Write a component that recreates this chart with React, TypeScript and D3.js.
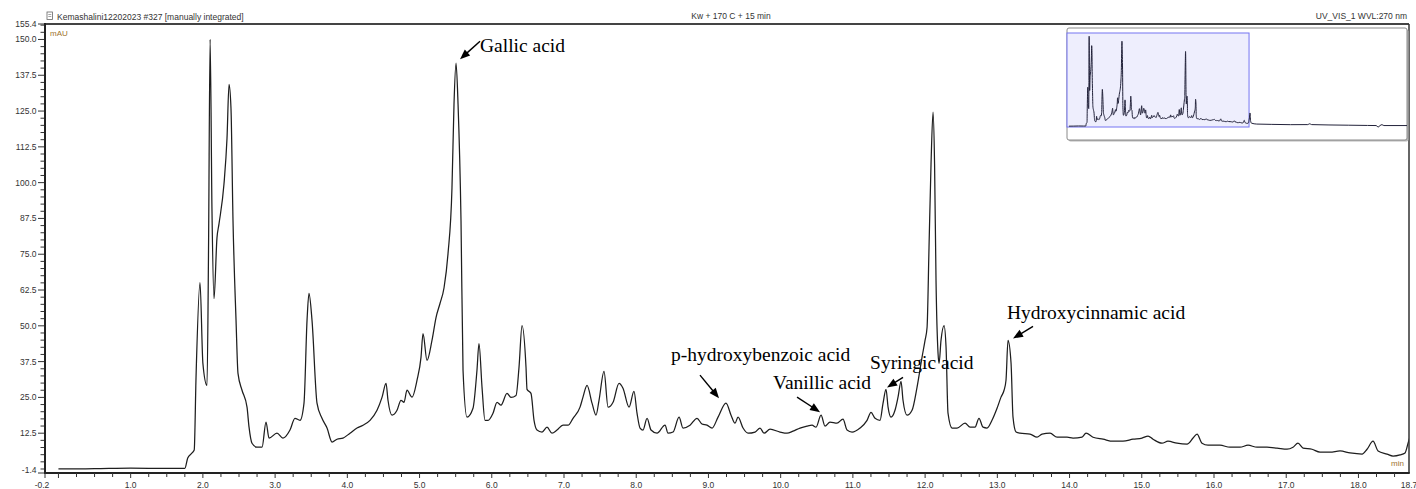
import React from 'react';
import * as d3 from 'd3';

// ---------------- data ----------------
const retentionTimes: number[] = [
  0.0, 0.5, 1.0, 1.5, 1.75, 1.79, 1.85, 1.88, 1.905, 1.96, 2.0, 2.057, 2.078, 2.1, 2.126, 2.154, 2.195, 2.223,
  2.292, 2.334, 2.362, 2.389, 2.417, 2.459, 2.486, 2.542, 2.611, 2.639, 2.68, 2.749, 2.819, 2.874, 2.916, 3.026,
  3.109, 3.206, 3.275, 3.345, 3.4, 3.442, 3.469, 3.511, 3.58, 3.649, 3.719, 3.788, 3.857, 3.94, 4.037, 4.134,
  4.217, 4.314, 4.411, 4.48, 4.536, 4.563, 4.619, 4.688, 4.743, 4.785, 4.826, 4.896, 4.965, 5.02, 5.048, 5.103,
  5.172, 5.228, 5.283, 5.339, 5.394, 5.449, 5.477, 5.505, 5.533, 5.574, 5.602, 5.657, 5.74, 5.795, 5.823, 5.865,
  5.906, 5.948, 6.017, 6.073, 6.128, 6.211, 6.266, 6.336, 6.377, 6.419, 6.474, 6.488, 6.543, 6.585, 6.626, 6.696,
  6.765, 6.834, 6.903, 6.986, 7.056, 7.125, 7.222, 7.263, 7.319, 7.388, 7.443, 7.485, 7.554, 7.61, 7.679, 7.762,
  7.817, 7.9, 7.969, 8.011, 8.053, 8.094, 8.15, 8.205, 8.288, 8.399, 8.44, 8.51, 8.593, 8.648, 8.745, 8.842,
  8.911, 8.98, 9.05, 9.133, 9.243, 9.313, 9.368, 9.41, 9.479, 9.548, 9.645, 9.714, 9.77, 9.853, 9.991, 10.088,
  10.171, 10.268, 10.365, 10.434, 10.49, 10.559, 10.614, 10.683, 10.78, 10.863, 10.919, 10.988, 11.099, 11.196,
  11.251, 11.307, 11.376, 11.417, 11.459, 11.487, 11.528, 11.583, 11.625, 11.667, 11.694, 11.75, 11.819, 11.888,
  11.957, 11.999, 12.027, 12.054, 12.082, 12.11, 12.131, 12.151, 12.179, 12.193, 12.22, 12.262, 12.29, 12.317,
  12.373, 12.442, 12.553, 12.622, 12.691, 12.746, 12.802, 12.857, 12.926, 12.996, 13.051, 13.093, 13.12, 13.148,
  13.19, 13.217, 13.259, 13.314, 13.453, 13.55, 13.619, 13.73, 13.827, 13.965, 14.048, 14.173, 14.228, 14.325,
  14.464, 14.602, 14.74, 14.879, 15.003, 15.087, 15.156, 15.28, 15.363, 15.488, 15.627, 15.71, 15.765, 15.834,
  15.917, 16.083, 16.222, 16.36, 16.471, 16.596, 16.734, 16.873, 17.011, 17.094, 17.163, 17.233, 17.357, 17.468,
  17.606, 17.745, 17.884, 18.05, 18.119, 18.202, 18.272, 18.396, 18.479, 18.576, 18.645, 18.687,
];
const absorbanceMAU: number[] = [
  0.0, 0.1, 0.3, 0.2, 0.2, 3.8, 5.6, 6.6, 32.0, 65.1, 36.9, 29.2, 76.2, 150.0, 90.0, 59.5, 80.7, 85.6,
  99.5, 115.5, 134.3, 126.0, 86.7, 51.9, 33.4, 27.5, 21.6, 14.6, 9.0, 7.6, 7.6, 16.4, 10.8, 12.5,
  10.8, 13.6, 17.7, 17.0, 23.0, 51.9, 61.3, 51.9, 23.0, 17.7, 14.3, 9.4, 10.4, 10.8, 12.5, 14.3,
  15.3, 17.0, 20.5, 25.0, 29.9, 24.0, 18.8, 20.5, 24.0, 23.3, 27.5, 25.1, 31.0, 39.0, 47.3, 37.9,
  44.9, 52.9, 57.8, 63.3, 75.2, 98.2, 127.4, 141.7, 127.4, 86.7, 34.5, 18.1, 21.2, 34.5, 43.8, 28.5,
  17.0, 17.0, 19.5, 23.3, 22.3, 26.4, 25.0, 25.7, 35.5, 50.1, 35.5, 27.8, 26.4, 17.0, 13.6, 12.9,
  14.6, 12.5, 13.6, 15.3, 15.3, 17.7, 21.6, 25.1, 29.2, 23.0, 18.8, 24.0, 34.1, 21.6, 23.3, 29.9,
  28.2, 21.6, 27.1, 19.5, 14.3, 13.6, 17.7, 13.6, 12.5, 15.3, 12.5, 12.9, 18.1, 14.3, 15.3, 17.7,
  15.7, 15.3, 14.3, 18.1, 23.0, 18.8, 16.0, 18.1, 14.3, 12.5, 12.9, 14.3, 12.5, 13.9, 12.9, 12.5,
  13.2, 14.3, 15.0, 15.3, 14.6, 18.8, 15.0, 16.4, 16.0, 17.4, 13.6, 12.9, 14.3, 17.0,
  19.8, 17.7, 17.0, 22.9, 27.8, 21.6, 18.1, 20.5, 25.1, 30.6, 24.0, 18.8, 20.5, 28.5,
  39.0, 44.9, 49.4, 77.3, 106.5, 124.6, 106.5, 65.8, 40.4, 36.9, 44.9, 50.1, 42.5, 19.5,
  14.3, 14.3, 16.0, 14.6, 14.6, 17.7, 14.6, 14.3, 17.0, 21.2, 25.1, 27.5, 31.0, 44.9,
  36.9, 18.1, 12.9, 12.5, 12.2, 11.1, 12.2, 12.5, 11.1, 11.1, 10.8, 11.1, 12.5, 11.1,
  10.4, 9.7, 9.7, 10.4, 10.8, 11.5, 10.4, 9.0, 9.7, 9.0, 8.7, 10.8, 12.2, 9.0,
  8.3, 8.3, 7.6, 7.6, 8.3, 7.6, 7.6, 7.3, 6.9, 7.6, 9.0, 7.3, 6.9, 5.9,
  5.9, 6.3, 5.6, 5.2, 6.9, 9.7, 6.3, 5.2, 4.5, 4.9, 5.6, 9.0,
];
// rest of the run, only visible in the overview inset
const tailTimes: number[] = [18.75, 18.8, 18.86, 18.95, 19.5, 21.0, 23.0, 24.8, 25.0, 25.2, 27.0, 29.0, 31.0, 31.9, 32.1, 32.3, 32.5, 32.7, 35.1];
const tailAbsorbance: number[] = [15.0, 22.0, 9.0, 5.0, 3.5, 3.0, 2.5, 2.6, 4.0, 2.6, 2.0, 1.6, 1.2, 1.0, -1.5, 1.0, 2.5, 1.0, 1.0];

const yTickLabels: number[] = [-1.4, 12.5, 25.0, 37.5, 50.0, 62.5, 75.0, 87.5, 100.0, 112.5, 125.0, 137.5, 150.0, 155.4];
const xTickLabels: number[] = [-0.2, 1, 2, 3, 4, 5, 6, 7, 8, 9, 10, 11, 12, 13, 14, 15, 16, 17, 18, 18.7];

const peakNames: string[] = ['Gallic acid', 'p-hydroxybenzoic acid', 'Vanillic acid', 'Syringic acid', 'Hydroxycinnamic acid'];
const peakTimes: number[] = [5.505, 9.243, 10.559, 11.459, 13.148];

const headerLeft = 'Kemashalini12202023 #327 [manually integrated]';
const headerCenter = 'Kw + 170 C + 15 min';
const headerRight = 'UV_VIS_1 WVL:270 nm';
const yUnit = 'mAU';
const xUnit = 'min';

// ---------------- layout ----------------
const W = 1416;
const H = 489;
const L = 44, R = 1409, T = 24, B = 473;
const SANS = '"Liberation Sans", Arial, sans-serif';
const SERIF = '"Liberation Serif", "Times New Roman", serif';
const UNIT_COLOR = '#a0742c';

// label/arrow offsets relative to each peak apex (pixels)
const labelLayout = [
  { tx: 24, ty: -11.5, ax1: 24, ay1: -22, ax2: 4, ay2: -4 },
  { tx: -55, ty: -42, ax1: -26, ay1: -28, ax2: -7, ay2: -5 },
  { tx: -48, ty: -26, ax1: -24, ay1: -18, ax2: -1, ay2: -3 },
  { tx: -16, ty: -20, ax1: 17, ay1: -12, ax2: 1, ay2: -2 },
  { tx: -1, ty: -21.5, ax1: 25, ay1: -14, ax2: 5, ay2: -2 },
];

function Arrow({ x1, y1, x2, y2 }: { x1: number; y1: number; x2: number; y2: number }) {
  const dx = x2 - x1, dy = y2 - y1;
  const len = Math.hypot(dx, dy);
  const ux = dx / len, uy = dy / len;
  const hl = 10, hw = 4;
  const bx = x2 - ux * hl, by = y2 - uy * hl;
  const px = -uy, py = ux;
  const pts = `${x2},${y2} ${bx + px * hw},${by + py * hw} ${bx - px * hw},${by - py * hw}`;
  return (
    <g>
      <line x1={x1} y1={y1} x2={bx + ux * 2} y2={by + uy * 2} stroke="#000" strokeWidth={1.4} />
      <polygon points={pts} fill="#000" />
    </g>
  );
}

export default function App() {
  const data: [number, number][] = retentionTimes.map((t, i) => [t, absorbanceMAU[i]]);
  const full: [number, number][] = data.concat(tailTimes.map((t, i) => [t, tailAbsorbance[i]] as [number, number]));

  const x = d3.scaleLinear().domain([-0.2, 18.7]).range([L, R]);
  const y = d3.scaleLinear().domain([-1.4, 155.4]).range([B, T]);

  const line = d3
    .line<[number, number]>()
    .x((d) => x(d[0]))
    .y((d) => y(d[1]))
    .curve(d3.curveMonotoneX);

  // inset (overview)
  const IL = 1067, IR = 1407, IT = 28, IB = 140;
  const ix = d3.scaleLinear().domain([-0.2, 35.1]).range([IL, IR]);
  const iy = d3.scaleLinear().domain([-1.4, 155.4]).range([127, 33]);
  const iline = d3
    .line<[number, number]>()
    .x((d) => ix(d[0]))
    .y((d) => iy(d[1]))
    .curve(d3.curveMonotoneX);

  const minorX = d3.range(0, 18.7, 0.25);
  const minorY = d3.range(0, 155.4, 2.5);

  const fmt = (v: number) => v.toFixed(1);

  return (
    <svg
      width={W}
      height={H}
      viewBox={`0 0 ${W} ${H}`}
      style={{ position: 'absolute', left: 0, top: 0, background: '#fff' }}
    >
      <defs>
        <clipPath id="plotClip">
          <rect x={L} y={T} width={R - L} height={B - T} />
        </clipPath>
        <clipPath id="insetClip">
          <rect x={IL} y={IT} width={IR - IL} height={IB - IT} />
        </clipPath>
      </defs>
      <rect x={0} y={0} width={W} height={H} fill="#fff" />

      {/* header */}
      <g fontFamily={SANS} fontSize={8.5} fill="#333">
        <rect x={47} y={12} width={5.5} height={7.5} fill="#fff" stroke="#666" strokeWidth={0.8} />
        <line x1={48.3} y1={14.5} x2={51.3} y2={14.5} stroke="#666" strokeWidth={0.6} />
        <line x1={48.3} y1={16.5} x2={51.3} y2={16.5} stroke="#666" strokeWidth={0.6} />
        <text x={57} y={19.5}>{headerLeft}</text>
        <text x={731} y={19} textAnchor="middle">{headerCenter}</text>
        <text x={1407} y={18.5} textAnchor="end">{headerRight}</text>
      </g>

      {/* trace */}
      <path d={line(full) || ''} fill="none" stroke="#1e1e1e" strokeWidth={1.25} clipPath="url(#plotClip)" />

      {/* frame */}
      <line x1={L} y1={T} x2={R} y2={T} stroke="#444" strokeWidth={2} />
      <line x1={R} y1={T} x2={R} y2={B} stroke="#333" strokeWidth={1.5} />
      <line x1={L + 1} y1={T - 1} x2={L + 1} y2={B + 1} stroke="#222" strokeWidth={2} />
      <line x1={L} y1={B} x2={R + 0.75} y2={B} stroke="#222" strokeWidth={2} />

      {/* y ticks */}
      <g stroke="#333" strokeWidth={1}>
        {minorY.map((v) => {
          const major = Math.abs(v / 12.5 - Math.round(v / 12.5)) < 1e-6 && v > 0;
          return <line key={'ym' + v} x1={major ? 38 : 40.5} x2={44} y1={y(v)} y2={y(v)} />;
        })}
        <line x1={38} x2={44} y1={y(-1.4)} y2={y(-1.4)} />
        <line x1={38} x2={44} y1={y(155.4)} y2={y(155.4)} />
      </g>
      <g fontFamily={SANS} fontSize={8.5} fill="#333" textAnchor="end">
        {yTickLabels.map((v) => (
          <text key={'yl' + v} x={36.5} y={y(v) + (v < 0 ? 0 : 3)}>
            {fmt(v)}
          </text>
        ))}
      </g>

      {/* x ticks */}
      <g stroke="#333" strokeWidth={1}>
        {minorX.map((t) => {
          const major = Math.abs(t - Math.round(t)) < 1e-6;
          return <line key={'xm' + t} x1={x(t)} x2={x(t)} y1={B} y2={B + (major ? 5 : 4)} />;
        })}
        <line x1={x(-0.2) + 1} x2={x(-0.2) + 1} y1={B} y2={B + 5} />
      </g>
      <g fontFamily={SANS} fontSize={8.5} fill="#333" textAnchor="middle">
        {xTickLabels.map((t) => (
          <text key={'xl' + t} x={x(t) - (t < 0 ? 2 : 0)} y={488}>
            {fmt(t)}
          </text>
        ))}
      </g>

      {/* unit labels */}
      <text x={50} y={35.5} fontFamily={SANS} fontSize={8} fill={UNIT_COLOR}>{yUnit}</text>
      <text x={1404} y={466} fontFamily={SANS} fontSize={8} fill={UNIT_COLOR} textAnchor="end">{xUnit}</text>

      {/* peak annotations */}
      <g fontFamily={SERIF} fontSize={19.5} fill="#000">
        {peakNames.map((name, i) => {
          const idx = d3.minIndex(retentionTimes, (t) => Math.abs(t - peakTimes[i]));
          const px = x(retentionTimes[idx]);
          const py = y(absorbanceMAU[idx]);
          const lay = labelLayout[i];
          return (
            <g key={name}>
              <text x={px + lay.tx} y={py + lay.ty}>{name}</text>
              <Arrow x1={px + lay.ax1} y1={py + lay.ay1} x2={px + lay.ax2} y2={py + lay.ay2} />
            </g>
          );
        })}
      </g>

      {/* overview inset */}
      <rect x={IL + 1.5} y={IT + 1.5} width={IR - IL} height={IB - IT} rx={2} fill="#b8b8b8" />
      <rect x={IL} y={IT} width={IR - IL} height={IB - IT} rx={2} fill="#fff" stroke="#8a8a8a" strokeWidth={1} />
      <rect
        x={IL}
        y={iy(155.4)}
        width={ix(18.7) - IL}
        height={iy(-1.4) - iy(155.4)}
        fill="#eeeefd"
        stroke="#7474f2"
        strokeWidth={1}
      />
      <path d={iline(full) || ''} fill="none" stroke="#22223a" strokeWidth={1} clipPath="url(#insetClip)" />
    </svg>
  );
}
